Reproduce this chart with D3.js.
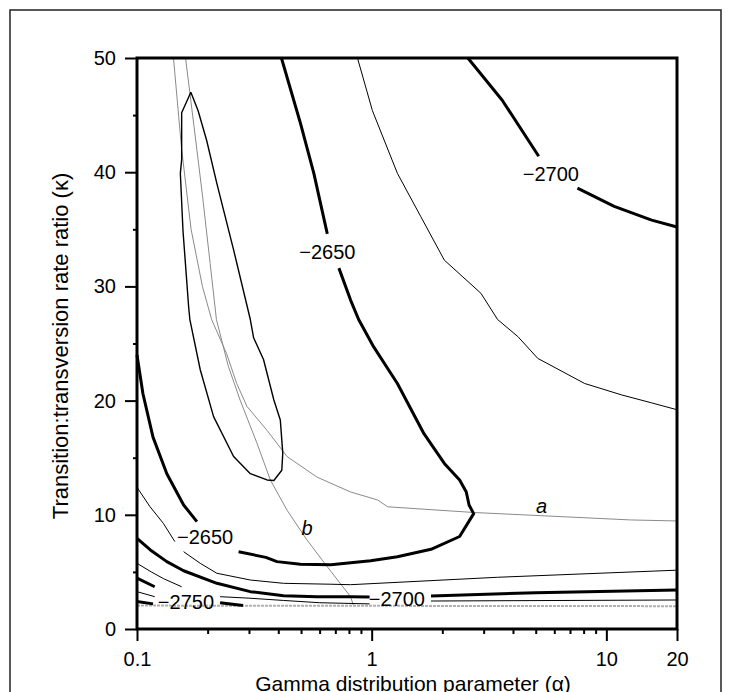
<!DOCTYPE html>
<html>
<head>
<meta charset="utf-8">
<script src="https://cdn.jsdelivr.net/npm/d3@7"></script>
<style>
  body { margin: 0; background: #fff; }
  svg text { font-family: "Liberation Sans", Arial, Helvetica, sans-serif; fill: #000; }
</style>
</head>
<body>
<div class="chart"></div>
<script>
// tick values
var xMajor = [0.1, 1, 10, 20];
var xMinor = [0.2, 0.3, 0.4, 0.5, 0.6, 0.7, 0.8, 0.9, 2, 3, 4, 5, 6, 7, 8, 9];
var yMajor = [0, 10, 20, 30, 40, 50];
var yMinor = [5, 15, 25, 35, 45];

// contour pieces, [alpha, kappa] (split where labels sit)
var thick2700TopA = [[2.57, 50], [3.6, 46.3], [5.15, 41.4]];
var thick2700TopB = [[7.53, 38.6], [10.8, 37.0], [15.6, 35.8], [20, 35.2]];
var thinTop = [[0.87, 50], [1.007, 45.4], [1.287, 39.9], [1.62, 36.1], [2.04, 32.3], [2.92, 29.4],
  [3.44, 27.1], [4.2, 25.6], [5.1, 23.7], [8.08, 21.5], [11.6, 20.5], [15.6, 19.8], [20, 19.2]];
var thick2650A = [[0.4125, 50], [0.497, 44.3], [0.567, 39.9], [0.647, 34.6]];
var thick2650B = [[0.725, 31.6], [0.813, 28.8], [0.88, 27.1], [1.02, 24.7], [1.287, 21.5], [1.67, 17.1],
  [2.04, 14.5], [2.37, 13.05], [2.53, 12.0], [2.6, 10.86], [2.72, 10.1], [2.37, 8.1], [1.79, 6.98],
  [1.287, 6.33], [0.99, 5.98], [0.67, 5.62], [0.497, 5.66], [0.395, 5.9], [0.354, 6.27], [0.271, 6.77]];
var thick2650C = [[0.18, 9.4], [0.158, 10.86], [0.134, 13.6], [0.117, 16.8], [0.106, 20.6], [0.1, 24]];
var closedInner = [[0.1696, 47.0], [0.182, 45.4], [0.198, 42.8], [0.219, 39.0], [0.258, 33.2], [0.304, 27.1],
  [0.314, 25.5], [0.346, 23.6], [0.383, 20.05], [0.408, 18.3], [0.418, 15.4], [0.414, 13.9], [0.383, 13.0],
  [0.358, 13.05], [0.304, 13.6], [0.258, 15.1], [0.212, 18.6], [0.186, 22.7], [0.168, 27.1], [0.166, 28.2],
  [0.157, 34.9], [0.153, 39.9], [0.155, 41.1], [0.155, 45.2], [0.1696, 47.0]];
var thinMidA = [[0.1, 12.4], [0.1137, 10.7], [0.1295, 9.25], [0.145, 7.65]];
var thinMidB = [[0.158, 6.77], [0.186, 5.75], [0.219, 4.88], [0.304, 4.29], [0.421, 4.0], [0.67, 3.92],
  [0.813, 3.88], [3.44, 4.53], [20, 5.15]];
var thick2700LowA = [[0.1, 7.94], [0.114, 6.92], [0.134, 5.9], [0.158, 5.1], [0.219, 4.0], [0.304, 3.27],
  [0.421, 2.92], [0.585, 2.83], [0.813, 2.83], [0.98, 2.8]];
var thick2700LowB = [[1.79, 2.89], [5, 3.18], [20, 3.42]];
var thinLowA = [[0.1, 5.75], [0.115, 5.0], [0.13, 4.4], [0.155, 3.7]];
var thinLowA2 = [[0.226, 2.83], [0.3, 2.7], [0.421, 2.5], [0.6, 2.3], [0.98, 2.2]];
var thinLowB = [[1.79, 2.45], [20, 2.54]];
var thick2750A = [[0.1, 4.45], [0.119, 3.7]];
var thinLowest = [[0.1, 3.27], [0.119, 2.83]];
var thick2750B = [[0.1, 2.4], [0.117, 2.2]];
var thick2750C = [[0.226, 2.3], [0.283, 2.06]];
var grayA = [[0.143, 50], [0.155, 42], [0.17, 35], [0.19, 30], [0.208, 27.1], [0.241, 24.1], [0.266, 21.5],
  [0.294, 19.5], [0.358, 17.4], [0.436, 15.1], [0.585, 13.3], [0.813, 12.0], [1.06, 11.3], [1.17, 10.7],
  [2.74, 10.2], [12.7, 9.55], [20, 9.46]];
var grayB = [[0.161, 50], [0.175, 44], [0.19, 38], [0.205, 32], [0.218, 27.1], [0.245, 23.0], [0.275, 20.05],
  [0.324, 16.3], [0.37, 13.05], [0.436, 10.4], [0.53, 7.8], [0.647, 5.45], [0.813, 2.83], [0.835, 2.1]];
var grayBand = [[0.1, 2.05], [20, 2.0]];

// contour labels
var labels = [
  {text: "\u22122700", a: 5.8, k: 39.9},
  {text: "\u22122650", a: 0.647, k: 33.0},
  {text: "\u22122650", a: 0.195, k: 8.06},
  {text: "\u22122750", a: 0.1616, k: 2.41},
  {text: "\u22122700", a: 1.28, k: 2.63}
];
var curveNames = [{text: "a", a: 5.3, k: 10.8}, {text: "b", a: 0.53, k: 8.9}];

var svgWidth = 732, svgHeight = 692;
var svg = d3.select(".chart").append("svg")
  .attr("width", svgWidth)
  .attr("height", svgHeight);

// outer frame of the figure
svg.append("rect")
  .attr("x", 10).attr("y", 10)
  .attr("width", 711).attr("height", 720)
  .attr("fill", "none")
  .attr("stroke", "#222")
  .attr("stroke-width", 1.5);

var x = d3.scaleLog().domain([0.1, 20]).range([137, 677]);
var y = d3.scaleLinear().domain([0, 50]).range([629, 58]);

var line = d3.line()
  .x(d => x(d[0]))
  .y(d => y(d[1]));

// axes
var xAxisMajor = d3.axisBottom(x).tickValues(xMajor).tickSize(12).tickPadding(11)
  .tickFormat(d3.format("~g"));
var xAxisMinor = d3.axisBottom(x).tickValues(xMinor).tickSize(5).tickFormat("");
var yAxisMajor = d3.axisLeft(y).tickValues(yMajor).tickSize(12).tickPadding(9);
var yAxisMinor = d3.axisLeft(y).tickValues(yMinor).tickSize(4).tickFormat("");

svg.append("g").attr("transform", "translate(0,629)").call(xAxisMinor);
svg.append("g").attr("transform", "translate(0,629)").call(xAxisMajor);
svg.append("g").attr("transform", "translate(137,0)").call(yAxisMinor);
svg.append("g").attr("transform", "translate(137,0)").call(yAxisMajor);

svg.selectAll(".domain").remove();
svg.selectAll(".tick line").attr("stroke", "#000").attr("stroke-width", 2);
svg.selectAll(".tick text").attr("fill", "#000").style("font-size", "20px");

// gray curves a and b, and the gray band near the bottom
var grayGroup = svg.append("g").attr("fill", "none").attr("stroke", "#8a8a8a").attr("stroke-width", 1);
[grayA, grayB].forEach(function(d) {
  grayGroup.append("path").attr("d", line(d));
});
grayGroup.append("path").attr("d", line(grayBand))
  .attr("stroke", "#b0b0b0").attr("stroke-width", 2).attr("stroke-dasharray", "3,1");

// thin contours
var thinGroup = svg.append("g").attr("fill", "none").attr("stroke", "#000").attr("stroke-width", 1);
[thinTop, thinMidA, thinMidB, thinLowA, thinLowA2, thinLowB, thinLowest].forEach(function(d) {
  thinGroup.append("path").attr("d", line(d));
});
svg.append("path").attr("d", line(closedInner))
  .attr("fill", "none").attr("stroke", "#000").attr("stroke-width", 1.4)
  .attr("stroke-linejoin", "round");

// thick contours
var thickGroup = svg.append("g").attr("fill", "none").attr("stroke", "#000").attr("stroke-width", 3)
  .attr("stroke-linejoin", "round");
[thick2700TopA, thick2700TopB, thick2650A, thick2650B, thick2650C, thick2700LowA, thick2700LowB,
  thick2750A, thick2750B, thick2750C].forEach(function(d) {
  thickGroup.append("path").attr("d", line(d));
});

// plot frame
svg.append("rect")
  .attr("x", 137).attr("y", 58)
  .attr("width", 540).attr("height", 571)
  .attr("fill", "none")
  .attr("stroke", "#000")
  .attr("stroke-width", 3);

// contour labels
svg.append("g").selectAll("text")
  .data(labels)
  .enter()
  .append("text")
  .attr("x", d => x(d.a))
  .attr("y", d => y(d.k))
  .attr("dy", "0.36em")
  .attr("text-anchor", "middle")
  .attr("fill", "#000")
  .style("font-size", "20px")
  .text(d => d.text);

svg.append("g").selectAll("text")
  .data(curveNames)
  .enter()
  .append("text")
  .attr("x", d => x(d.a))
  .attr("y", d => y(d.k))
  .attr("dy", "0.36em")
  .attr("text-anchor", "middle")
  .attr("fill", "#000")
  .style("font-size", "20px")
  .style("font-style", "italic")
  .text(d => d.text);

// axis titles
svg.append("text")
  .attr("x", 413)
  .attr("y", 691)
  .attr("text-anchor", "middle")
  .attr("fill", "#000")
  .style("font-size", "21px")
  .text("Gamma distribution parameter (\u03b1)");

svg.append("text")
  .attr("transform", "translate(68,346) rotate(-90)")
  .attr("text-anchor", "middle")
  .attr("fill", "#000")
  .style("font-size", "22px")
  .text("Transition:transversion rate ratio (\u03ba)");
</script>
</body>
</html>
